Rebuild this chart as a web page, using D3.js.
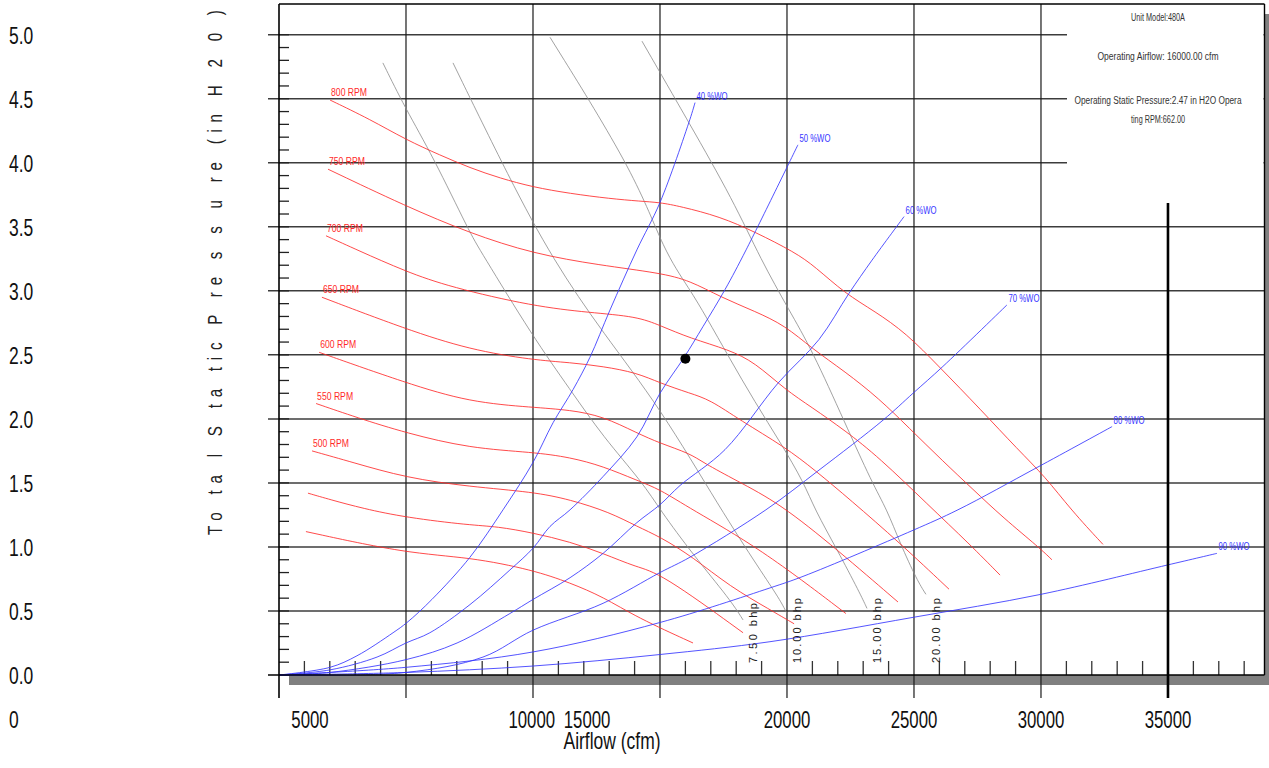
<!DOCTYPE html>
<html>
<head>
<meta charset="utf-8">
<script src="https://cdn.jsdelivr.net/npm/d3@7/dist/d3.min.js"></script>
<style>
	body { margin:0; background:#fff; }
	svg { display:block; }
	.narrow { font-family:'Liberation Sans Narrow', 'Liberation Sans', Arial, sans-serif; }
	.wide { font-family:'Liberation Sans', Arial, sans-serif; }
</style>
</head>
<body>
<div class="fan-wrapper"></div>
<script>

// axis values and labels
const yTicks = [0, 0.5, 1.0, 1.5, 2.0, 2.5, 3.0, 3.5, 4.0, 4.5, 5.0]
const xGrid = [0, 5000, 10000, 15000, 20000, 25000, 30000, 35000]
const xLabels = ['5000', '10000', '15000', '20000', '25000', '30000', '35000']
const xLabelAt = [1220, 9950, 12130, 20000, 25000, 30000, 35000]

// fan speed curves [cfm, in H2O]
const rpmNames = ['800 RPM', '750 RPM', '700 RPM', '650 RPM', '600 RPM', '550 RPM', '500 RPM', '', '']
const rpm800 = [[2010,4.49],[3580,4.34],[5000,4.18],[6340,4.06],[7520,3.96],[8700,3.88],[10000,3.81],[11460,3.76],[13030,3.72],[14210,3.70],[15000,3.69],[15790,3.66],[17360,3.58],[18740,3.46],[20320,3.30],[21100,3.19],[22280,2.98],[23460,2.84],[24690,2.67],[25980,2.41],[27640,2.07],[29090,1.76],[30160,1.55],[31180,1.29],[32440,1.02]]
const rpm750 = [[1930,3.95],[5000,3.66],[7520,3.45],[10000,3.29],[12640,3.20],[15000,3.14],[16180,3.08],[17400,2.95],[18740,2.84],[19920,2.73],[20980,2.55],[22280,2.37],[23620,2.16],[24800,1.93],[26140,1.67],[27320,1.45],[28500,1.23],[29960,0.99],[30430,0.90]]
const rpm700 = [[1850,3.43],[3070,3.32],[5000,3.15],[6730,3.03],[10000,2.88],[12240,2.83],[14090,2.80],[15000,2.73],[16180,2.63],[17720,2.54],[18740,2.44],[19920,2.23],[20980,2.09],[22280,1.91],[23620,1.70],[25550,1.33],[27200,1.02],[28390,0.78]]
const rpm650 = [[1690,2.95],[5000,2.70],[7520,2.54],[10000,2.46],[11460,2.44],[12760,2.41],[14090,2.36],[15000,2.28],[16180,2.20],[16970,2.15],[18150,1.99],[19920,1.78],[21100,1.60],[22480,1.37],[24450,1.03],[26380,0.67]]
const rpm600 = [[1580,2.52],[5000,2.28],[7520,2.13],[10000,2.09],[11460,2.07],[12760,2.02],[14090,1.89],[15000,1.81],[16180,1.73],[16690,1.66],[17990,1.52],[19720,1.34],[21970,0.98],[24370,0.57]]
const rpm550 = [[1460,2.12],[3070,2.01],[5000,1.89],[7520,1.77],[10000,1.74],[11460,1.70],[12760,1.63],[14090,1.52],[15000,1.45],[16180,1.30],[18940,0.99],[22320,0.48]]
const rpm500 = [[1300,1.75],[2910,1.66],[5000,1.54],[7520,1.47],[10000,1.43],[11460,1.37],[13030,1.27],[14090,1.16],[15000,1.08],[16300,0.92],[17760,0.69],[19330,0.51],[20280,0.40]]
const rpm450 = [[1140,1.42],[2010,1.37],[3310,1.30],[5000,1.23],[7520,1.17],[8580,1.16],[10000,1.11],[11460,1.04],[12760,0.95],[14090,0.84],[15000,0.80],[18270,0.33]]
const rpm400 = [[1060,1.12],[5000,0.95],[7520,0.92],[10000,0.82],[11460,0.72],[12760,0.61],[14090,0.45],[16300,0.25]]

// wide-open percentage curves
const woNames = ['40 %WO', '50 %WO', '60 %WO', '70 %WO', '80 %WO', '90 %WO']
const wo40 = [[0,0],[2010,0.06],[3070,0.15],[4490,0.33],[5040,0.41],[6020,0.59],[7520,0.92],[8820,1.29],[10000,1.66],[10790,1.97],[11580,2.23],[12240,2.48],[13030,2.85],[14090,3.32],[15000,3.69],[16180,4.34],[16380,4.47]]
const wo50 = [[0,0],[2010,0.04],[3860,0.14],[5000,0.25],[5940,0.33],[7520,0.55],[9090,0.82],[10000,0.99],[10670,1.16],[11460,1.29],[12760,1.55],[14090,1.86],[15000,2.20],[15950,2.48],[16690,2.72],[17560,3.01],[18390,3.32],[20430,4.14]]
const wo60 = [[0,0],[2010,0.02],[5000,0.12],[7010,0.25],[9090,0.48],[10000,0.59],[11460,0.76],[12760,0.95],[14090,1.19],[15000,1.33],[15790,1.48],[17560,1.76],[19650,2.28],[21260,2.62],[22440,2.98],[23350,3.24],[24610,3.58]]
const wo70 = [[0,0],[5000,0.02],[8030,0.14],[10000,0.35],[12760,0.56],[15000,0.80],[16180,0.92],[19170,1.29],[21260,1.60],[23780,1.99],[24960,2.20],[26140,2.41],[28660,2.89]]
const wo80 = [[0,0],[5000,0.06],[10000,0.18],[15000,0.41],[19330,0.68],[20630,0.77],[24960,1.13],[26730,1.29],[29840,1.62],[32800,1.94]]
const wo90 = [[0,0],[5000,0.02],[10000,0.07],[15000,0.16],[19330,0.26],[24960,0.45],[30000,0.63],[35000,0.86],[36930,0.95]]

// brake horsepower curves
const bhpNames = ['7.50 bhp', '10.00 bhp', '15.00 bhp', '20.00 bhp']
const bhp750 = [[4090,4.78],[4960,4.43],[6060,4.05],[7520,3.45],[7910,3.32],[10000,2.64],[11460,2.23],[12760,1.86],[14330,1.50],[15000,1.29],[16300,0.94],[17760,0.59],[18270,0.43]]
const bhp1000 = [[6850,4.78],[9090,3.87],[10790,3.24],[12760,2.67],[15000,2.09],[17400,1.29],[18940,0.82],[19720,0.59],[20000,0.48]]
const bhp1500 = [[10670,4.98],[14090,3.89],[15120,3.32],[16180,3.01],[16810,2.80],[17720,2.48],[18740,2.13],[19760,1.81],[20670,1.50],[21100,1.29],[21970,0.98],[22870,0.64],[23150,0.52]]
const bhp2000 = [[14290,4.95],[16180,4.30],[17870,3.71],[18980,3.24],[20080,2.85],[20980,2.54],[22280,1.97],[23350,1.50],[23940,1.29],[24450,1.03],[25120,0.74],[25470,0.63]]

const operating = [16000, 2.47]
const infoLines = ['Unit Model:480A', 'Operating Airflow: 16000.00 cfm', 'Operating Static Pressure:2.47 in H2O Opera', 'ting RPM:662.00']

const width = 1269
const height = 768

const margin = {left:279, top:4, right:4.5, bottom:93}

const chart = d3.select('.fan-wrapper')
.append('svg')
.attr('width', width)
.attr('height', height)

const xScale = d3.scaleLinear()
.domain([0, 38800])
.range([margin.left, width - margin.right])

const yScale = d3.scaleLinear()
.domain([0, 5.24])
.range([height - margin.bottom, margin.top])

const x0 = xScale(0), x1 = xScale(38800)
const y0 = yScale(0), y1 = yScale(5.24)

// frame with drop shadow
chart.append('rect')
.attr('x', x0 + 10).attr('y', y1 + 10)
.attr('width', x1 - x0).attr('height', y0 - y1)
.style('fill', '#808080')

chart.append('rect')
.attr('x', x0).attr('y', y1)
.attr('width', x1 - x0).attr('height', y0 - y1)
.style('fill', '#fff')

const grid = chart.append('g')
const curves = chart.append('g')
const labels = chart.append('g')
const axis = chart.append('g')

// horizontal grid
grid.selectAll('.hgrid')
.data(yTicks.filter(d => d > 0))
.enter()
.append('line')
.attr('x1', x0 - 11)
.attr('x2', x1)
.attr('y1', d => yScale(d))
.attr('y2', d => yScale(d))
.style('stroke', '#3c3c3c')
.style('stroke-width', 1.5)

// vertical grid
grid.selectAll('.vgrid')
.data(xGrid.filter(d => d > 0 && d < 35000))
.enter()
.append('line')
.attr('x1', d => xScale(d))
.attr('x2', d => xScale(d))
.attr('y1', y1)
.attr('y2', y0 + 23)
.style('stroke', '#1a1a1a')
.style('stroke-width', 1.2)

// minor ticks
grid.selectAll('.ytick')
.data(d3.range(0, 51).map(d => d / 10))
.enter()
.append('line')
.attr('x1', x0)
.attr('x2', x0 + 10)
.attr('y1', d => yScale(d))
.attr('y2', d => yScale(d))
.style('stroke', '#222')
.style('stroke-width', 1.3)

grid.selectAll('.xtick')
.data(d3.range(1000, 38001, 1000).filter(d => d % 5000 != 0))
.enter()
.append('line')
.attr('x1', d => xScale(d))
.attr('x2', d => xScale(d))
.attr('y1', y0)
.attr('y2', y0 - 14)
.style('stroke', '#333')
.style('stroke-width', 1.3)

const line = d3.line()
.curve(d3.curveBasis)
.x(d => xScale(d[0]))
.y(d => yScale(d[1]))

const woLine = d3.line()
.curve(d3.curveCatmullRom.alpha(0.5))
.x(d => xScale(d[0]))
.y(d => yScale(d[1]))

const rpmCurves = [rpm800, rpm750, rpm700, rpm650, rpm600, rpm550, rpm500, rpm450, rpm400]
const woCurves = [wo40, wo50, wo60, wo70, wo80, wo90]
const bhpCurves = [bhp750, bhp1000, bhp1500, bhp2000]

curves.selectAll('.bhp-line')
.data(bhpCurves)
.enter()
.append('path')
.attr('d', line)
.style('fill', 'none')
.style('stroke', '#8a8a8a')
.style('stroke-width', 0.8)

curves.selectAll('.rpm-line')
.data(rpmCurves)
.enter()
.append('path')
.attr('d', line)
.style('fill', 'none')
.style('stroke', '#ff2a2a')
.style('stroke-width', 0.85)

curves.selectAll('.wo-line')
.data(woCurves)
.enter()
.append('path')
.attr('d', woLine)
.style('fill', 'none')
.style('stroke', '#3535ff')
.style('stroke-width', 0.85)

// curve labels
rpmCurves.forEach((d, i) => {
	if(rpmNames[i] != '')
	{
		labels.append('text')
		.attr('class', 'narrow')
		.attr('x', xScale(d[0][0]) + 1)
		.attr('y', yScale(d[0][1]) - 4)
		.attr('textLength', 36)
		.attr('lengthAdjust', 'spacingAndGlyphs')
		.style('font-size', '11px')
		.style('fill', '#ff2a2a')
		.text(rpmNames[i])
	}
})

woCurves.forEach((d, i) => {
	let last = d[d.length - 1]
	labels.append('text')
	.attr('class', 'narrow')
	.attr('x', xScale(last[0]) + 1.5)
	.attr('y', yScale(last[1]) - 3)
	.attr('textLength', 31)
	.attr('lengthAdjust', 'spacingAndGlyphs')
	.style('font-size', '11px')
	.style('fill', '#3535ff')
	.text(woNames[i])
})

bhpCurves.forEach((d, i) => {
	let last = d[d.length - 1]
	let bx = xScale(last[0]) + 14
	let by = y0 - 12
	labels.append('text')
	.attr('class', 'narrow')
	.attr('transform', `translate(${bx},${by}) rotate(-90)`)
	.attr('textLength', i == 0 ? 60 : 65)
	.attr('lengthAdjust', 'spacing')
	.style('font-size', '11px')
	.style('fill', '#222')
	.text(bhpNames[i])
})

// operating point
labels.append('circle')
.attr('cx', xScale(operating[0]))
.attr('cy', yScale(operating[1]))
.attr('r', 5)
.style('fill', '#000')

// info box
const boxBottom = 200
labels.append('rect')
.attr('x', 1067)
.attr('y', y1 + 1)
.attr('width', x1 - 1067 - 1)
.attr('height', boxBottom - y1)
.style('fill', '#fff')

const infoY = [21, 60, 104, 123]
const infoW = [54, 121, 167, 54]
infoLines.forEach((t, i) => {
	labels.append('text')
	.attr('class', 'narrow')
	.attr('x', 1158)
	.attr('y', infoY[i])
	.attr('text-anchor', 'middle')
	.attr('textLength', infoW[i])
	.attr('lengthAdjust', 'spacingAndGlyphs')
	.style('font-size', '10px')
	.style('fill', '#333')
	.text(t)
})

// 35000 line
axis.append('line')
.attr('x1', xScale(35000)).attr('x2', xScale(35000))
.attr('y1', boxBottom + 3).attr('y2', y0 + 23)
.style('stroke', '#000')
.style('stroke-width', 2.6)

// frame
axis.append('line')
.attr('x1', x0).attr('x2', x0)
.attr('y1', y1).attr('y2', y0 + 23)
.style('stroke', '#000')
.style('stroke-width', 1.6)

axis.append('line')
.attr('x1', x0 - 11).attr('x2', x1)
.attr('y1', y0).attr('y2', y0)
.style('stroke', '#000')
.style('stroke-width', 1.6)

axis.append('line')
.attr('x1', x0).attr('x2', x1)
.attr('y1', y1).attr('y2', y1)
.style('stroke', '#000')
.style('stroke-width', 1.6)

axis.append('line')
.attr('x1', x1).attr('x2', x1)
.attr('y1', y1).attr('y2', y0)
.style('stroke', '#000')
.style('stroke-width', 1.4)

// y tick labels
axis.selectAll('.ylabel')
.data(yTicks)
.enter()
.append('text')
.attr('class', 'wide')
.attr('transform', d => `translate(9,${yScale(d) + 9}) scale(0.76,1)`)
.style('font-size', '23px')
.style('fill', '#111')
.text(d => d.toFixed(1))

axis.append('text')
.attr('class', 'wide')
.attr('transform', `translate(9,728) scale(0.76,1)`)
.style('font-size', '23px')
.style('fill', '#111')
.text('0')

// x tick labels
axis.selectAll('.xlabel')
.data(xLabels)
.enter()
.append('text')
.attr('class', 'wide')
.attr('transform', (d, i) => `translate(${xScale(xLabelAt[i])},728) scale(0.73,1)`)
.attr('text-anchor', 'middle')
.style('font-size', '23px')
.style('fill', '#111')
.text(d => d)

axis.append('text')
.attr('class', 'wide')
.attr('transform', `translate(612,749) scale(0.76,1)`)
.attr('text-anchor', 'middle')
.style('font-size', '23px')
.style('fill', '#111')
.text('Airflow  (cfm)')

axis.append('text')
.attr('class', 'narrow')
.attr('transform', `translate(222,535) rotate(-90) scale(0.72,1)`)
.attr('textLength', 729)
.attr('lengthAdjust', 'spacing')
.style('font-size', '21px')
.style('fill', '#222')
.text('To ta l S ta tic P re s s u re (in H 2 0 )')

</script>
</body>
</html>
